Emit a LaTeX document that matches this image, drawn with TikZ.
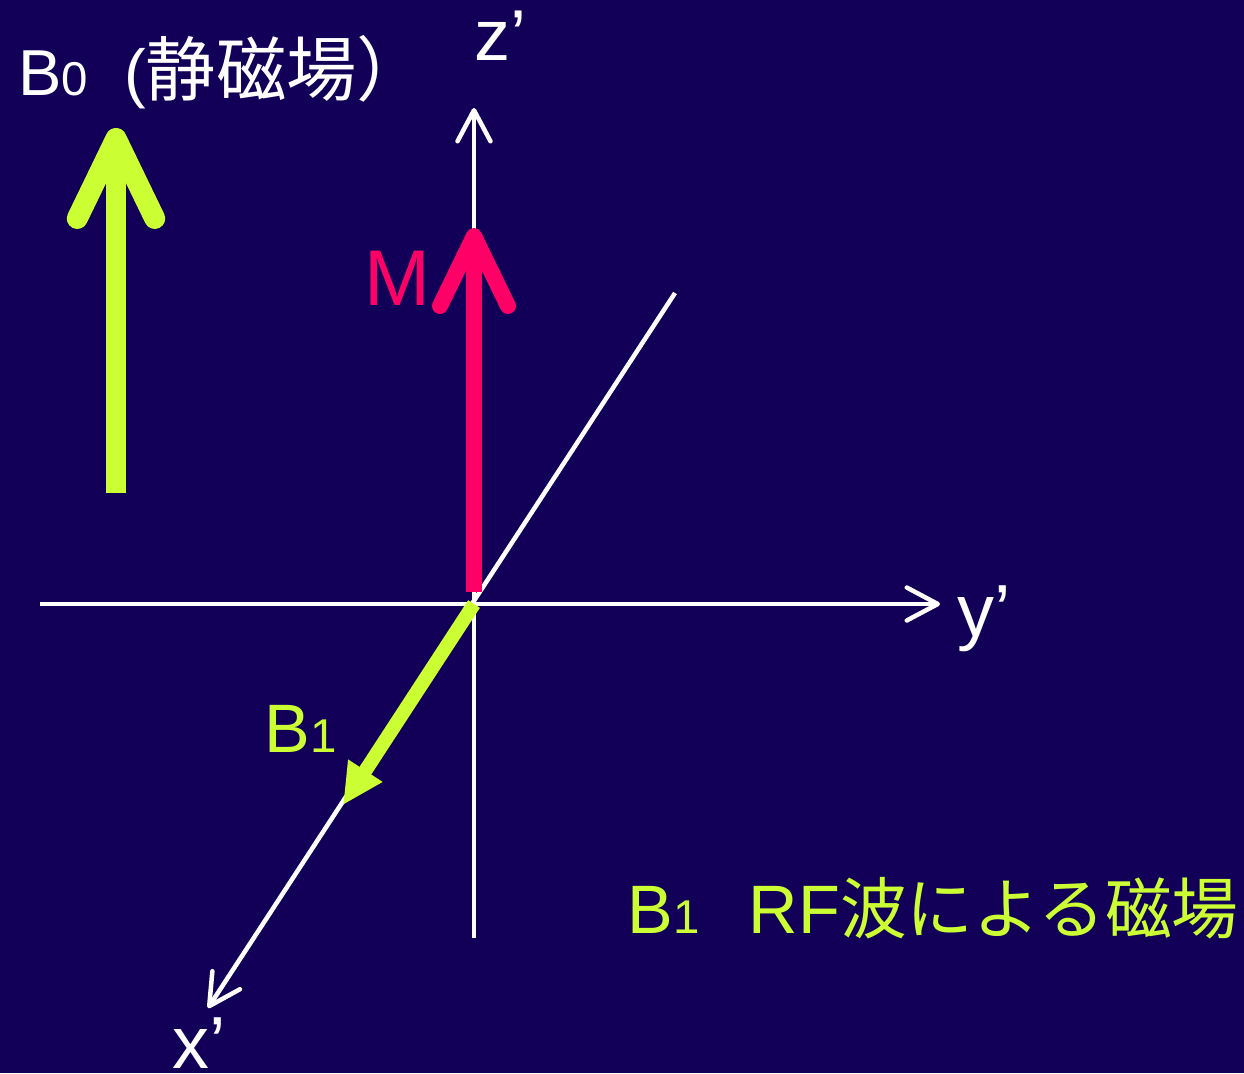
\documentclass[tikz,border=0pt]{standalone}
\usepackage{fontspec}
\setmainfont{Liberation Sans}
\newfontfamily\jpfont{Noto Sans CJK JP}
\usetikzlibrary{arrows.meta}
\definecolor{bgColor}{RGB}{18,0,88}
\definecolor{limeColor}{RGB}{204,255,51}
\definecolor{magColor}{RGB}{255,0,102}
\newcommand{\diagfont}{\fontsize{39}{44}\selectfont}
\newcommand{\diagsubfont}{\fontsize{27}{30}\selectfont}
\begin{document}
\begin{tikzpicture}[x=0.02cm, y=-0.02cm,
    axis/.style={white, line width=0.09cm, -{Straight Barb[length=0.62cm, width=0.66cm, round]}},
    bigarr/.style={line width=#1, -{Straight Barb[length=1.6cm, width=1.55cm, round]}},
    lbl/.style={inner sep=0pt, anchor=base west, font=\diagfont},
  ]
  \useasboundingbox[fill=bgColor] (0,0) rectangle (1244,1073);
  \coordinate (O) at (474,604);
  \coordinate (yS) at (40,604);
  \coordinate (yE) at (940,604);
  \coordinate (zS) at (474,938);
  \coordinate (zE) at (474,108);
  \coordinate (xS) at (675,293);
  \coordinate (xE) at (208,1008);

  % axes
  \draw[axis] (yS) -- (yE);
  \draw[axis] (zS) -- (zE);
  \draw[axis] (xS) -- (xE);

  % field and magnetisation
  \coordinate (b0S) at (116,493);
  \coordinate (b0E) at (116,128);
  \draw[bigarr=0.42cm, limeColor] (b0S) -- (b0E);
  \coordinate (mS) at (474,592);
  \coordinate (mE) at (474,228);
  \draw[line width=0.32cm, magColor, -{Straight Barb[length=1.4cm, width=1.36cm, round]}] (mS) -- (mE);
  \coordinate (b1E) at (343,805);
  \draw[line width=0.28cm, limeColor, -{Triangle[length=0.82cm, width=0.76cm]}] (O) -- (b1E);

  % labels
  \node[lbl, white, font=\fontsize{37}{42}\selectfont] (b0label) at (18,95) {B{\diagsubfont 0}\ \ ({\jpfont\fontsize{40}{44}\selectfont 静磁場）}};
  \node[lbl, white, font=\fontsize{41}{46}\selectfont] (zlabel) at (474,60) {z’};
  \node[lbl, magColor, font=\fontsize{45}{50}\selectfont] (mlabel) at (364,305) {M};
  \node[lbl, white, font=\fontsize{42}{46}\selectfont] (ylabel) at (957,636) {y’};
  \node[lbl, white, font=\fontsize{42}{46}\selectfont] (xlabel) at (172,1068) {x’};
  \node[lbl, limeColor] (b1label) at (264,752) {B{\diagsubfont 1}};
  \node[lbl, limeColor] (rflabel) at (627,933) {B{\diagsubfont 1}\hspace{0.72em}RF{\jpfont\fontsize{38}{42}\selectfont 波による磁場}};
\end{tikzpicture}
\end{document}
